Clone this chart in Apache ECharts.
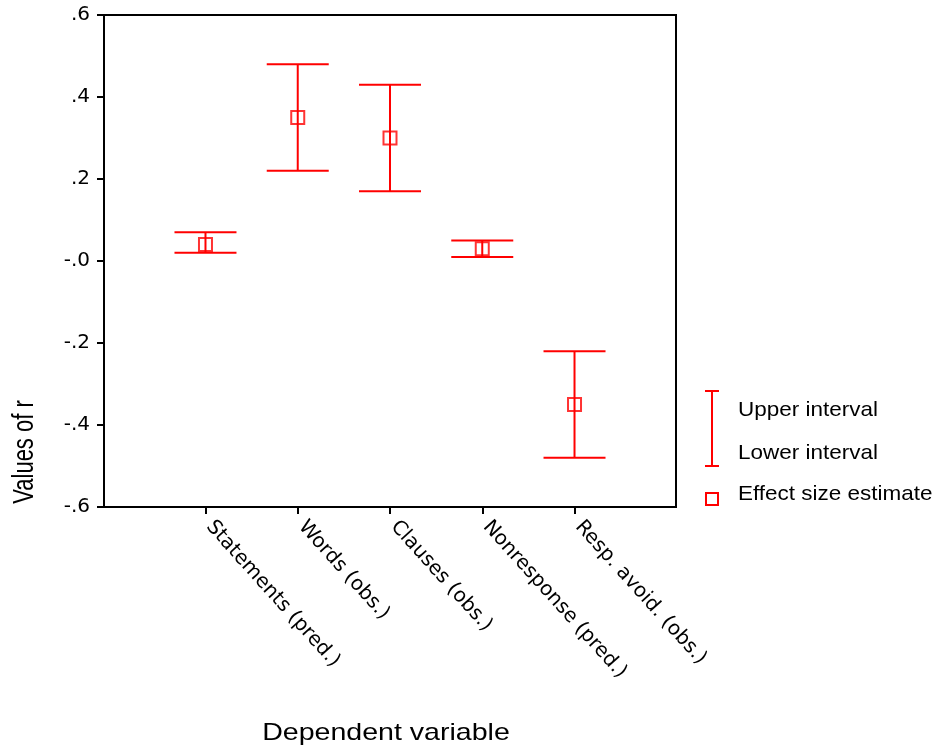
<!DOCTYPE html>
<html style="height: 100%">
<head>
    <meta charset="utf-8">
</head>
<body style="height: 100%; margin: 0; background: #fff">
<div id="container" style="width: 936px; height: 747px"></div>
<script type="text/javascript" src="https://cdn.jsdelivr.net/npm/echarts@6.0.0/dist/echarts.min.js"></script>
<script type="text/javascript">
    // values
    var categories = ['Statements (pred.)', 'Words (obs.)', 'Clauses (obs.)', 'Nonresponse (pred.)', 'Resp. avoid. (obs.)'];
    var upper = [0.07, 0.48, 0.43, 0.05, -0.22];
    var lower = [0.02, 0.22, 0.17, 0.01, -0.48];
    var estimate = [0.04, 0.35, 0.30, 0.03, -0.35];
    var yTickLabels = ['-.6', '-.4', '-.2', '-.0', '.2', '.4', '.6'];
    var catPos = [1, 2, 3, 4, 5];

    var RED = '#ff0000';
    var FONT = '"Liberation Sans", Arial, sans-serif';
    var WIDE = '"DejaVu Sans", sans-serif';

    var dom = document.getElementById("container");
    var myChart = echarts.init(dom);

    var barData = categories.map(function (c, i) {
        return [catPos[i], lower[i], upper[i]];
    });
    var pointData = categories.map(function (c, i) {
        return [catPos[i], estimate[i]];
    });

    var option = {
        animation: false,
        backgroundColor: '#fff',
        grid: {
            left: 104, right: 260, top: 15, bottom: 240,
            show: true, borderColor: '#000', borderWidth: 2, backgroundColor: 'transparent'
        },
        xAxis: {
            type: 'value',
            min: -0.1,
            max: 6.1,
            splitLine: {show: false},
            axisLine: {show: true, onZero: false, lineStyle: {color: '#000', width: 2}},
            axisTick: {show: true, customValues: catPos, length: 7, lineStyle: {color: '#000', width: 2}},
            axisLabel: {
                customValues: catPos,
                formatter: function (v) { return categories[Math.round(v) - 1]; },
                rotate: -48,
                margin: 12,
                padding: [0, 0, 0, 6],
                color: '#000',
                fontFamily: WIDE,
                fontSize: 20
            }
        },
        yAxis: {
            type: 'value',
            min: -0.6,
            max: 0.6,
            interval: 0.2,
            splitLine: {show: false},
            axisLine: {show: true, onZero: false, lineStyle: {color: '#000', width: 2}},
            axisTick: {show: true, length: 7, lineStyle: {color: '#000', width: 2}},
            axisLabel: {
                formatter: function (v) { return yTickLabels[Math.round((v + 0.6) / 0.2)]; },
                margin: 14,
                color: '#000',
                fontFamily: WIDE,
                fontSize: 20
            }
        },
        series: [
            {
                name: 'Interval',
                type: 'custom',
                data: barData,
                renderItem: function (params, api) {
                    var x = api.value(0);
                    var lo = api.coord([x, api.value(1)]);
                    var hi = api.coord([x, api.value(2)]);
                    var hw = 31;
                    var st = {stroke: RED, lineWidth: 2};
                    return {
                        type: 'group',
                        children: [
                            {type: 'line', shape: {x1: hi[0], y1: hi[1], x2: lo[0], y2: lo[1]}, style: st},
                            {type: 'line', shape: {x1: hi[0] - hw, y1: hi[1], x2: hi[0] + hw, y2: hi[1]}, style: st},
                            {type: 'line', shape: {x1: lo[0] - hw, y1: lo[1], x2: lo[0] + hw, y2: lo[1]}, style: st}
                        ]
                    };
                },
                z: 2
            },
            {
                name: 'Effect size estimate',
                type: 'scatter',
                data: pointData,
                symbol: 'rect',
                symbolSize: 13,
                itemStyle: {color: 'rgba(0,0,0,0)', borderColor: RED, borderWidth: 2},
                z: 3
            }
        ],
        graphic: [
            // axis titles
            {
                type: 'text', x: 25, y: 452, rotation: Math.PI / 2, scaleY: 1.3,
                style: {text: 'Values of r', font: '22px ' + FONT, fill: '#000', textAlign: 'center', textVerticalAlign: 'middle'}
            },
            {
                type: 'text', x: 386, y: 733, scaleX: 1.19,
                style: {text: 'Dependent variable', font: '24px ' + FONT, fill: '#000', textAlign: 'center', textVerticalAlign: 'middle'}
            },
            // legend
            {type: 'line', shape: {x1: 712, y1: 391, x2: 712, y2: 466}, style: {stroke: RED, lineWidth: 2}},
            {type: 'line', shape: {x1: 705, y1: 391, x2: 719, y2: 391}, style: {stroke: RED, lineWidth: 2}},
            {type: 'line', shape: {x1: 705, y1: 466, x2: 719, y2: 466}, style: {stroke: RED, lineWidth: 2}},
            {type: 'rect', shape: {x: 706, y: 493, width: 12, height: 12}, style: {fill: 'none', stroke: RED, lineWidth: 2}},
            {
                type: 'text', x: 738, y: 410, scaleX: 1.07,
                style: {text: 'Upper interval', font: '21px ' + FONT, fill: '#000', textVerticalAlign: 'middle'}
            },
            {
                type: 'text', x: 738, y: 453, scaleX: 1.07,
                style: {text: 'Lower interval', font: '21px ' + FONT, fill: '#000', textVerticalAlign: 'middle'}
            },
            {
                type: 'text', x: 738, y: 494, scaleX: 1.07,
                style: {text: 'Effect size estimate', font: '21px ' + FONT, fill: '#000', textVerticalAlign: 'middle'}
            }
        ]
    };

    if (option && typeof option === "object") {
        myChart.setOption(option, true);
    }
</script>
</body>
</html>
